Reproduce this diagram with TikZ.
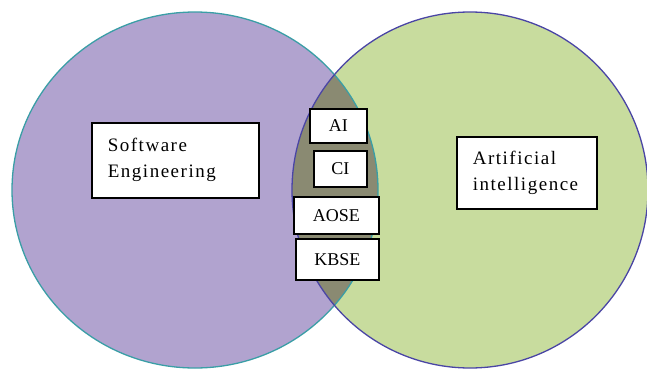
\documentclass[tikz,border=0pt]{standalone}
\usepackage{fontspec}
\setmainfont{Liberation Serif}
\definecolor{sepurple}{HTML}{B1A3CF}
\definecolor{aigreen}{HTML}{C8DC9E}
\definecolor{overlap}{HTML}{8A8A72}
\definecolor{tealedge}{HTML}{3A9EA6}
\definecolor{blueedge}{HTML}{4A45A5}
\tikzset{
  labelbox/.style={draw=black, line width=1.6pt, fill=white, rectangle},
  bigbox/.style={labelbox, anchor=north west, align=left, inner xsep=16pt,
    font=\fontsize{19}{26}\selectfont\addfontfeatures{LetterSpace=8}},
  tagbox/.style={labelbox, anchor=north west, inner sep=0pt, align=center,
    font=\fontsize{18}{22}\selectfont},
}
\begin{document}
\begin{tikzpicture}[x=1pt, y=-1pt]
\useasboundingbox (0,0) rectangle (647,369);
% the two fields
\fill[sepurple] (195,190) ellipse [x radius=183, y radius=178];
\fill[aigreen] (470,190) circle (178);
% shared area
\begin{scope}
  \clip (195,190) ellipse [x radius=183, y radius=178];
  \fill[overlap] (470,190) circle (178);
\end{scope}
\draw[tealedge, line width=1.3pt] (195,190) ellipse [x radius=183, y radius=178];
\draw[blueedge, line width=1.3pt] (470,190) circle (178);
% field labels
\node[bigbox, text width=135pt, minimum height=75pt] (se) at (91,122) {Software\\Engineering};
\node[bigbox, text width=108pt, minimum height=72pt] (ai) at (456,136) {Artificial\\intelligence};
% shared topics
\node[tagbox, minimum width=57pt, minimum height=34pt] (tai) at (309,108) {AI};
\node[tagbox, minimum width=53pt, minimum height=36pt] (tci) at (313,150) {CI};
\node[tagbox, minimum width=85pt, minimum height=37pt] (aose) at (293,196) {AOSE};
\node[tagbox, minimum width=83pt, minimum height=41pt] (kbse) at (295,238) {KBSE};
\end{tikzpicture}
\end{document}
